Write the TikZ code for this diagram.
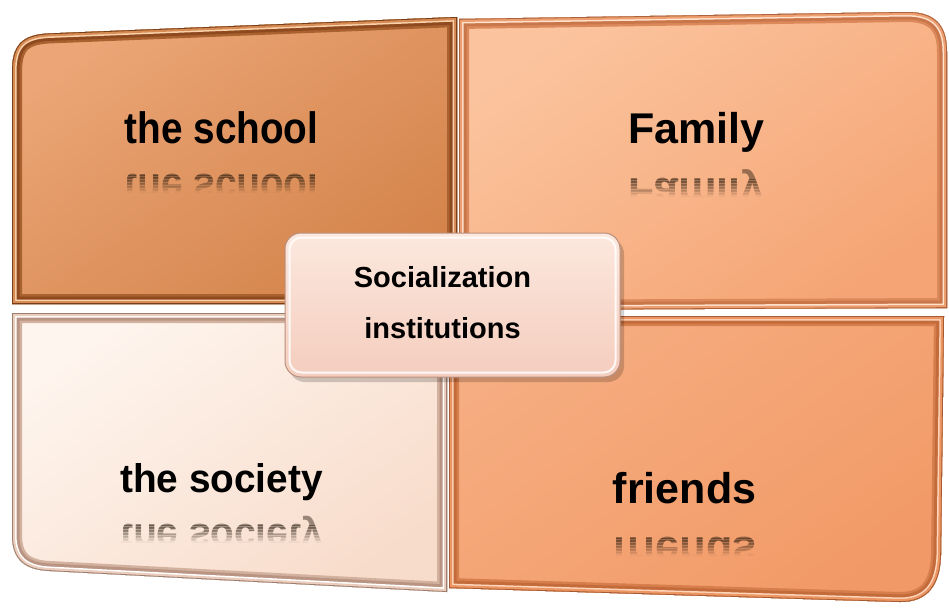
\documentclass[tikz,border=0pt]{standalone}
\usepackage{fontspec}
\setmainfont{Liberation Sans}

% panel colours
\definecolor{schoolA}{HTML}{EBA576}
\definecolor{schoolB}{HTML}{D4844B}
\definecolor{schoolRim}{HTML}{D88C55}
\definecolor{schoolDark}{HTML}{8E4A1E}
\definecolor{schoolLight}{HTML}{FAD3AC}
\definecolor{familyA}{HTML}{FBC49E}
\definecolor{familyB}{HTML}{F5A575}
\definecolor{familyRim}{HTML}{EE9F70}
\definecolor{familyDark}{HTML}{C9764A}
\definecolor{familyLight}{HTML}{FFE3CF}
\definecolor{societyA}{HTML}{FEF5EE}
\definecolor{societyB}{HTML}{F8DCCB}
\definecolor{societyRim}{HTML}{EBCDBD}
\definecolor{societyDark}{HTML}{B99482}
\definecolor{societyLight}{HTML}{FFFFFF}
\definecolor{friendsA}{HTML}{F6AD81}
\definecolor{friendsB}{HTML}{F29A67}
\definecolor{friendsRim}{HTML}{EC9663}
\definecolor{friendsDark}{HTML}{C46B3B}
\definecolor{friendsLight}{HTML}{FDD5BA}
\definecolor{hubA}{HTML}{FCE8DE}
\definecolor{hubB}{HTML}{F4CDBE}
\definecolor{hubEdge}{HTML}{B98F7E}

\newcommand{\lblfont}[1]{\bfseries\fontsize{#1}{#1}\selectfont}

% bevelled panel: path, light fill, dark fill, rim, bevel shadow, highlight
\newcommand{\bevelpanel}[6]{%
  \fill[top color=#2, bottom color=#3, shading angle=35] #1;
  \begin{scope}
    \clip #1;
    \draw[#5!60!#3, line width=20pt, line join=round] #1;
    \draw[#5, line width=15pt, line join=round] #1;
    \draw[#6, line width=9pt, line join=round] #1;
    \draw[#4, line width=6pt, line join=round] #1;
    \draw[#5!85!black, line width=1.6pt, line join=round] #1;
  \end{scope}
}

% mirrored label fading out downwards: name, x, baseline, size, xscale, text
\newcommand{\mirrorlabel}[6]{%
  \foreach \k in {0,...,11}{%
    \pgfmathsetmacro{\ytop}{#3+1.5*\k-22*(\k==0)}%
    \pgfmathsetmacro{\op}{0.45*(1-\k/12)}%
    \begin{scope}
      \clip (#2-160,\ytop) rectangle (#2+160,#3+1.5*\k+1.5);
      \node[name=#1-\k, anchor=base, inner sep=0pt, yscale=-1, xscale=#5,
            text=black!80!brown, text opacity=\op, font=\lblfont{#4}] at (#2,#3) {#6};
    \end{scope}
  }%
}

\tikzset{
  lbl/.style={anchor=base, inner sep=0pt, text=black},
}

\begin{document}
\begin{tikzpicture}[x=1pt,y=-1pt]
\useasboundingbox (0,0) rectangle (949,608);
\fill[white] (0,0) rectangle (949,608);

% outlines of the four quarters
\def\pfamily{(459,19) -- (905,12) .. controls (935,11.5) and (947,25) .. (947,52) -- (947,308) -- (459,310) -- cycle}
\def\pschool{(12,304) -- (12,72) .. controls (12,45) and (22,35) .. (48,33.5) -- (457,17) -- (457,304) -- cycle}
\def\psociety{(12,313) -- (447,313) -- (447,592) -- (50,571) .. controls (25,570) and (12,560) .. (12,535) -- cycle}
\def\pfriends{(449,316) -- (944,316) -- (941,555) .. controls (940,585) and (928,602) .. (900,602) -- (449,588) -- cycle}

\bevelpanel{\pfamily}{familyA}{familyB}{familyRim}{familyDark}{familyLight}
\bevelpanel{\pschool}{schoolA}{schoolB}{schoolRim}{schoolDark}{schoolLight}
\bevelpanel{\psociety}{societyA}{societyB}{societyRim}{societyDark}{societyLight}
\bevelpanel{\pfriends}{friendsA}{friendsB}{friendsRim}{friendsDark}{friendsLight}

% quarter labels and their reflections
\node[name=school, lbl, xscale=0.88, font=\lblfont{44}] at (221.5,143) {the school};
\mirrorlabel{school-mirror}{221.5}{174}{44}{0.88}{the school}

\node[name=family, lbl, font=\lblfont{43}] at (696.5,143) {Family};
\mirrorlabel{family-mirror}{696.5}{178}{43}{1}{Family}

\node[name=society, lbl, xscale=0.97, font=\lblfont{40}] at (221.5,492) {the society};
\mirrorlabel{society-mirror}{221.5}{524}{40}{0.97}{the society}

\node[name=friends, lbl, font=\lblfont{43}] at (684.5,503) {friends};
\mirrorlabel{friends-mirror}{684.5}{537}{43}{1}{friends}

% central box
\fill[black, opacity=0.18, rounded corners=16pt] (289,238) rectangle (624,382);
\node[name=hub, draw=hubEdge, line width=1pt, rounded corners=16pt,
      top color=hubA, bottom color=hubB,
      minimum width=335pt, minimum height=144pt] at (452.5,305) {};
\draw[white, line width=2pt, rounded corners=12pt, opacity=0.85]
  ([shift={(5,5)}]hub.north west) rectangle ([shift={(-5,-5)}]hub.south east);
\node[name=hub-top, lbl, font=\lblfont{29}] at (442.5,287) {Socialization};
\node[name=hub-bottom, lbl, font=\lblfont{29}] at (442.5,338) {institutions};
\end{tikzpicture}
\end{document}
